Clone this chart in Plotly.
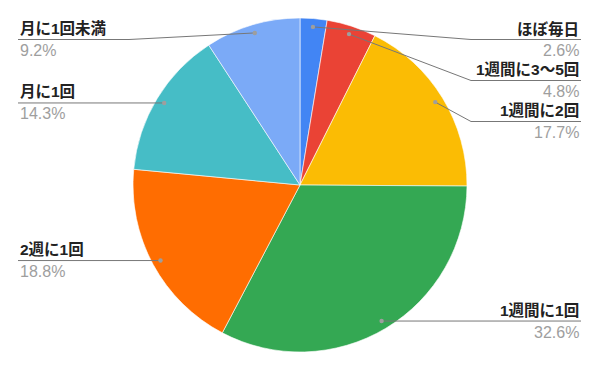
import math
import plotly.graph_objects as go

labels = ["ほぼ毎日", "1週間に3～5回", "1週間に2回", "1週間に1回", "2週に1回", "月に1回", "月に1回未満"]
values = [2.6, 4.8, 17.7, 32.6, 18.8, 14.3, 9.2]
colors = ["#4285F4", "#EA4335", "#FBBC04", "#34A853", "#FF6D01", "#46BDC6", "#7BAAF7"]

W, H = 600, 371
CX, CY, R = 300, 185, 167
DOT_R = 0.95 * R
RIGHT_X, LEFT_X = 581, 18
BEND = R + 4
MIN_Y, GAP = 39.5, 41

fig = go.Figure(go.Pie(
    labels=labels, values=values, sort=False, direction="clockwise", rotation=0,
    marker=dict(colors=colors, line=dict(color="white", width=0.6)),
    textinfo="none", hoverinfo="label+percent", showlegend=False,
    domain=dict(x=[(CX - R) / W, (CX + R) / W], y=[1 - (CY + R) / H, 1 - (CY - R) / H]),
))

total = sum(values)
items = []
cum = 0
for lab, v in zip(labels, values):
    mid = (cum + v / 2) / total * 2 * math.pi
    cum += v
    dx = CX + DOT_R * math.sin(mid)
    dy = CY - DOT_R * math.cos(mid)
    items.append(dict(label=lab, value=v, x=dx, y=dy, right=mid < math.pi))

def place(group):
    prev = None
    for it in sorted(group, key=lambda d: d["y"]):
        ly = max(it["y"], MIN_Y)
        if prev is not None:
            ly = max(ly, prev + GAP)
        it["ly"] = ly
        prev = ly

place([i for i in items if i["right"]])
place([i for i in items if not i["right"]])

FONT = "Arial, Liberation Sans, Noto Sans CJK JP"
px = lambda x: x / W
py = lambda y: 1 - y / H
shapes, annots = [], []
for it in items:
    side = 1 if it["right"] else -1
    bx = CX + side * BEND
    ex = RIGHT_X if it["right"] else LEFT_X
    line = dict(color="#777777", width=1)
    shapes.append(dict(type="line", xref="paper", yref="paper", x0=px(it["x"]), y0=py(it["y"]),
                       x1=px(bx), y1=py(it["ly"]), line=line))
    shapes.append(dict(type="line", xref="paper", yref="paper", x0=px(bx), y0=py(it["ly"]),
                       x1=px(ex), y1=py(it["ly"]), line=line))
    r = 2.2
    shapes.append(dict(type="circle", xref="paper", yref="paper",
                       x0=px(it["x"] - r), x1=px(it["x"] + r), y0=py(it["y"] + r), y1=py(it["y"] - r),
                       fillcolor="#9E9E9E", line=dict(width=0)))
    anchor = "right" if it["right"] else "left"
    annots.append(dict(xref="paper", yref="paper", x=px(ex), y=py(it["ly"] - 11), xanchor=anchor,
                       yanchor="middle", showarrow=False, text="<b>%s</b>" % it["label"],
                       font=dict(size=15.5, color="#222222", family=FONT)))
    annots.append(dict(xref="paper", yref="paper", x=px(ex), y=py(it["ly"] + 11), xanchor=anchor,
                       yanchor="middle", showarrow=False, text="%.1f%%" % it["value"],
                       font=dict(size=16, color="#9E9E9E", family=FONT)))

fig.update_layout(width=W, height=H, margin=dict(l=0, r=0, t=0, b=0),
                  paper_bgcolor="white", plot_bgcolor="white",
                  shapes=shapes, annotations=annots)
fig.write_html("out.html")
